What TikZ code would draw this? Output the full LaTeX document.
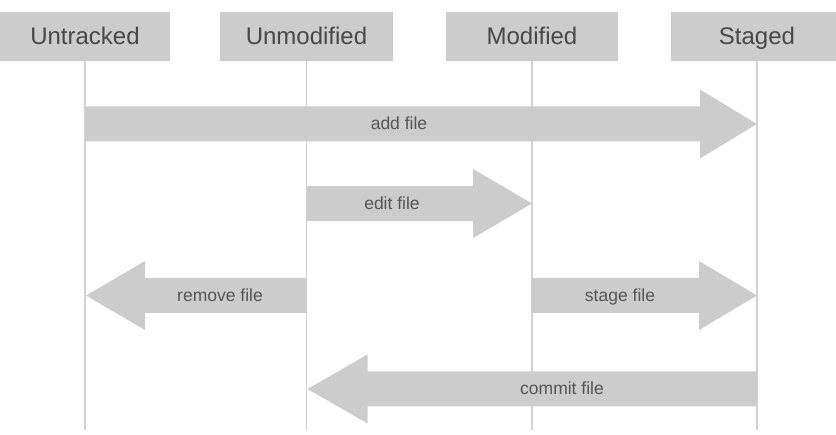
\documentclass[tikz,border=0pt]{standalone}
\usepackage{fontspec}
\setmainfont{Liberation Sans}
\usetikzlibrary{calc}
\definecolor{boxgray}{HTML}{CCCCCC}
\definecolor{linegray}{HTML}{D2D2D2}
\definecolor{boxtext}{HTML}{474747}
\definecolor{arrtext}{HTML}{555555}
\newcommand\blockarrow[3]{%
  \fill[boxgray] ($(#1)+(0,-17.5)$) -- ($(#2)+(#3,-17.5)$) -- ($(#2)+(#3,-34.5)$)
    -- (#2) -- ($(#2)+(#3,34.5)$) -- ($(#2)+(#3,17.5)$) -- ($(#1)+(0,17.5)$) -- cycle;}
\begin{document}
\begin{tikzpicture}[x=1pt,y=-1pt,
  statebox/.style={fill=boxgray, text=boxtext, minimum height=49pt, inner sep=0pt,
    text height=17pt, text depth=0pt, font=\fontsize{24}{28}\selectfont},
  lifeline/.style={draw=linegray, line width=1.6pt},
  arrlabel/.style={text=arrtext, inner sep=0pt, text height=12pt, text depth=0pt,
    font=\fontsize{17.5}{21}\selectfont}]
\useasboundingbox (0,0) rectangle (836,435);
\node[statebox, minimum width=170pt] (untracked) at (85,36.5) {Untracked};
\node[statebox, minimum width=173pt] (unmodified) at (306.5,36.5) {Unmodified};
\node[statebox, minimum width=172pt] (modified) at (532,36.5) {Modified};
\node[statebox, minimum width=172pt] (staged) at (757,36.5) {Staged};
\foreach \n in {untracked,unmodified,modified,staged}{
  \coordinate (\n-end) at (\n.south |- 0,430);
  \draw[lifeline] (\n.south) -- (\n-end);
}
% add file
\coordinate (a-s) at (untracked.south |- 0,124);
\coordinate (a-e) at (staged.south |- 0,124);
\blockarrow{a-s}{a-e}{-57}
\node[arrlabel] (addlbl) at (399,124) {add file};
% edit file
\coordinate (e-s) at (unmodified.south |- 0,203.5);
\coordinate (e-e) at (modified.south |- 0,203.5);
\blockarrow{e-s}{e-e}{-59}
\node[arrlabel] (editlbl) at (392,203.5) {edit file};
% remove file
\coordinate (r-s) at (unmodified.south |- 0,295.5);
\coordinate (r-e) at ($(untracked.south |- 0,295.5)+(1,0)$);
\blockarrow{r-s}{r-e}{59}
\node[arrlabel] (removelbl) at (220,295.5) {remove file};
% stage file
\coordinate (s-s) at (modified.south |- 0,295.5);
\coordinate (s-e) at (staged.south |- 0,295.5);
\blockarrow{s-s}{s-e}{-58}
\node[arrlabel] (stagelbl) at (620,295.5) {stage file};
% commit file
\coordinate (c-s) at (staged.south |- 0,389);
\coordinate (c-e) at ($(unmodified.south |- 0,389)+(1,0)$);
\blockarrow{c-s}{c-e}{60}
\node[arrlabel] (commitlbl) at (562,389) {commit file};
\end{tikzpicture}
\end{document}
